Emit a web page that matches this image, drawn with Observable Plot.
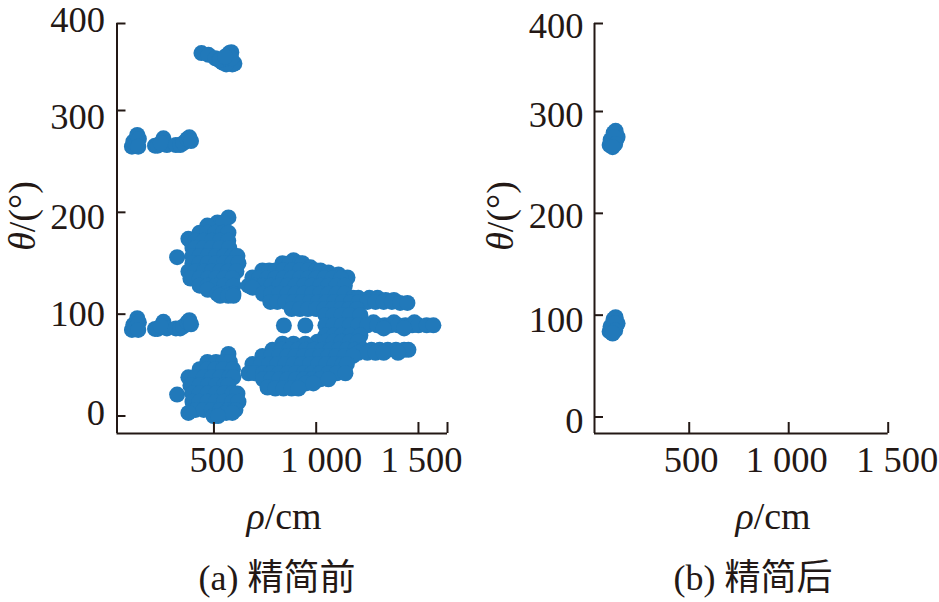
<!DOCTYPE html>
<html><head><meta charset="utf-8">
<script src="https://cdn.jsdelivr.net/npm/d3@7"></script>
<script src="https://cdn.jsdelivr.net/npm/@observablehq/plot@0.6"></script>
<style>
html,body{margin:0;padding:0;background:#fff}
#c{position:relative;width:939px;height:602px;overflow:hidden;color:#231815;font-family:"Liberation Serif","Noto Sans CJK SC",serif}
#c svg{position:absolute;top:0;background:none;overflow:visible}
.t{position:absolute;white-space:pre;font-size:38px;line-height:44px}
.t i{font-style:italic}
.r{transform:translate(-50%,-50%) rotate(-90deg)}
.m{transform:translate(-50%,-50%)}
</style></head><body><div id="c"></div>
<script>
// (a) before pruning: rho (cm) and theta (deg), cluster by cluster
const rhoTop   = [439,473,507,525,542,565,575,585,585,600,590,560,530,565,585,555];
const thetaTop = [366,364,360,358,355,355,366,367,355,354,353,353,358,360,360,362];
const rhoRow270   = [99,106,125,133,130,212,225,253,258,270,240,314,335,350,370,380,388];
const thetaRow270 = [264.5,269.5,276,272,264.5,265.5,265.5,272.7,268,266,268,266,266,268,272,273.7,270];
const rhoRow90    = [99,106,125,133,130,212,225,253,258,270,240,314,335,350,370,380,388];
const thetaRow90  = [84.5,89.5,96,92,84.5,85.5,85.5,92.5,88,86,88,86,86,88,92,94,90];
const rhoIsolated   = [320,320,842,947];
const thetaIsolated = [156,21,88.9,88.9];
// clusters written as rows: one theta per row, the rho values found on that row
const upperBlobTheta = [195,190,187,180,174,172,165,157,150,142,135,128,124,120,118];
const upperBlobRho = [[571],[517,545],[468],[430,468,507,545,571],[375],[385,410,450,490,530,570],[395,410,450,490,530,575],
  [395,430,470,510,550,590,615],[395,430,470,510,550,590,620],[375,410,450,490,530,570,610],[385,430,470,510,550,590],
  [430,470,510,550,595],[470],[517,556,595],[530,570,595]];
const lowerBlobTheta = [61,53,46,38,30,22,14,6,3,0];
const lowerBlobRho = [[571],[468,510,545,578],[430,468,507,545,593],[375,410,450,490,530,575,595],[385,430,470,510,550,570],
  [395,430,470,510,550,590,615],[395,430,470,510,550,590,620],[410,450,490,530,570,605],[375,560,590],[498,520]];
const upperWedgeTheta = [153,150,146,143,141,139,136,135,128,126,120,116,114,112,111,105,99,92,89,86];
const upperWedgeRho = [[889],[835,870,920,933],[972],[737,770,800,840,880,920,960,1000,1021],[1060],[1109],[688,1153],
  [720,760,800,840,880,920,960,1000,1040,1080,1120],[669,700,740,780,820,860,900,940,980,1020,1060,1100,1140],[688],
  [740,780,820,860,900,940,980,1020,1060,1100,1140],[1180,1206,1260,1300],[1340,1380],
  [776,810,850,890,930,970,1010,1050,1090,1130,1170,1210,1250,1290,1330,1370],[1410,1446],
  [880,920,960,1000,1040,1080,1120,1160,1200],[1045,1085,1125,1165,1216],
  [1280,1380,1480],
  [1045,1085,1125,1165,1205,1250,1299,1335,1363,1400,1436,1470,1500,1540,1573],
  [1330,1430]];
const lowerWedgeTheta = [79,73,71,65,62,59,51,42,36,32,28,27];
const lowerWedgeRho = [[1045,1085,1125,1165,1216],[1006,1045,1085,1125,1165,1205],[835,889,947],
  [786,830,870,910,950,990,1030,1070,1110,1150,1190,1230,1270,1310,1350,1390,1430,1451],[1206,1250,1290,1330,1400],
  [737,780,820,860,900,940,980,1020,1060,1100,1140,1180],[688,730,770,810,850,890,930,970,1010,1050,1090,1130,1150],
  [669,700,740,780,820,860,900,940,980,1020,1060,1100,1143],[740,780,820,860,900,940,980,1020,1060],[950,986],[762],[800,840,880,913]];
// (b) after pruning
const rhoAfter   = [100,110,135,130,120,140,105,120,125,128,115,100,110,135,130,120,140,105,120,125,128,115];
const thetaAfter = [267,269,273,281,279,275,272,272,275,268,265,84,86,90,98,96,92,89,89,92,85,82];

const rows = (ts,rs)=>ts.flatMap((t,i)=>rs[i].map(r=>[r,t]));
const before = [
  ...rhoTop.map((r,i)=>[r,thetaTop[i]]),
  ...rhoRow270.map((r,i)=>[r,thetaRow270[i]]),
  ...rhoRow90.map((r,i)=>[r,thetaRow90[i]]),
  ...rhoIsolated.map((r,i)=>[r,thetaIsolated[i]]),
  ...rows(upperBlobTheta,upperBlobRho),
  ...rows(lowerBlobTheta,lowerBlobRho),
  ...rows(upperWedgeTheta,upperWedgeRho),
  ...rows(lowerWedgeTheta,lowerWedgeRho)
];
const after = rhoAfter.map((r,i)=>[r,thetaAfter[i]]);

const xTickValues = [500,1000,1500];
const xTickLabels = ["500","1 000","1 500"];
const yTickValues = [400,300,200,100,0];

const ink = "#231815", blue = "#2179ba";
const font = "Liberation Serif";
const tickFont = 36.5;

function panel(o){
  const yLabels = yTickValues.map((t,i)=>Plot.axisY([t],{anchor:"left",tickSize:0,tickPadding:o.yPad,fontSize:tickFont,fill:ink,
    dy:o.yDy[i],label:null,tickFormat:()=>String(t)}));
  const xLabels = xTickValues.map((t,i)=>Plot.axisX([t],{anchor:"bottom",tickSize:0,tickPadding:13,fontSize:tickFont,fill:ink,
    dx:o.xDx[i],label:null,tickFormat:()=>xTickLabels[i]}));
  return Plot.plot({
    width:470,height:470,
    marginLeft:o.ml,marginRight:o.mr,marginTop:o.yr[3],marginBottom:470-o.yr[0],
    style:{fontFamily:font,color:ink,background:"none"},
    x:{domain:o.xd,label:null,axis:null},
    y:{type:"linear",domain:o.yd,range:o.yr,label:null,axis:null},
    marks:[
      Plot.dot(o.data,{x:"0",y:"1",r:o.r,fill:blue}),
      Plot.ruleX([o.xd[0]],{stroke:ink,strokeWidth:2}),
      Plot.ruleY([o.yd[0]],{stroke:ink,strokeWidth:2}),
      Plot.axisY(yTickValues,{anchor:"left",tickSize:-9,fill:"none",stroke:ink,strokeWidth:2,strokeOpacity:1,label:null}),
      Plot.axisX(o.xt,{anchor:"bottom",tickSize:-11,fill:"none",stroke:ink,strokeWidth:2,strokeOpacity:1,label:null}),
      ...yLabels,...xLabels
    ]
  });
}
const c = document.getElementById("c");
const a = panel({ml:116.5,mr:23,xd:[26,1642],xt:[500,1000,1500,1642],yd:[-18,0,300,400],yr:[433,415.5,110,23],
  data:before,r:8,yPad:12,yDy:[-3,7,5,0,-3],xDx:[3,5,3]});
const b = panel({ml:124,mr:52.3,xd:[24,1500],xt:[500,1000,1500],yd:[-16.2,0,300,400],yr:[433,416.5,111,23],
  data:after,r:8,yPad:11,yDy:[3,4,3,5,4],xDx:[2,-2,9]});
a.style.left="0px"; b.style.left="470px";
c.append(a,b);
const labels = [
  ["m",284,516,'<i>ρ</i>/cm'],["m",773,516,'<i>ρ</i>/cm'],
  ["r",22,216,'<i>θ</i>/(°)'],["r",500,216,'<i>θ</i>/(°)'],
  ["m",277,578,'(a) 精简前',36],["m",753,578,'(b) 精简后',36]
];
for(const [k,x,y,h,fs] of labels){
  const d=document.createElement("div");d.className="t "+k;d.style.left=x+"px";d.style.top=y+"px";d.innerHTML=h;
  if(fs){d.style.fontSize=fs+"px";}
  c.append(d);
}
</script></body></html>
